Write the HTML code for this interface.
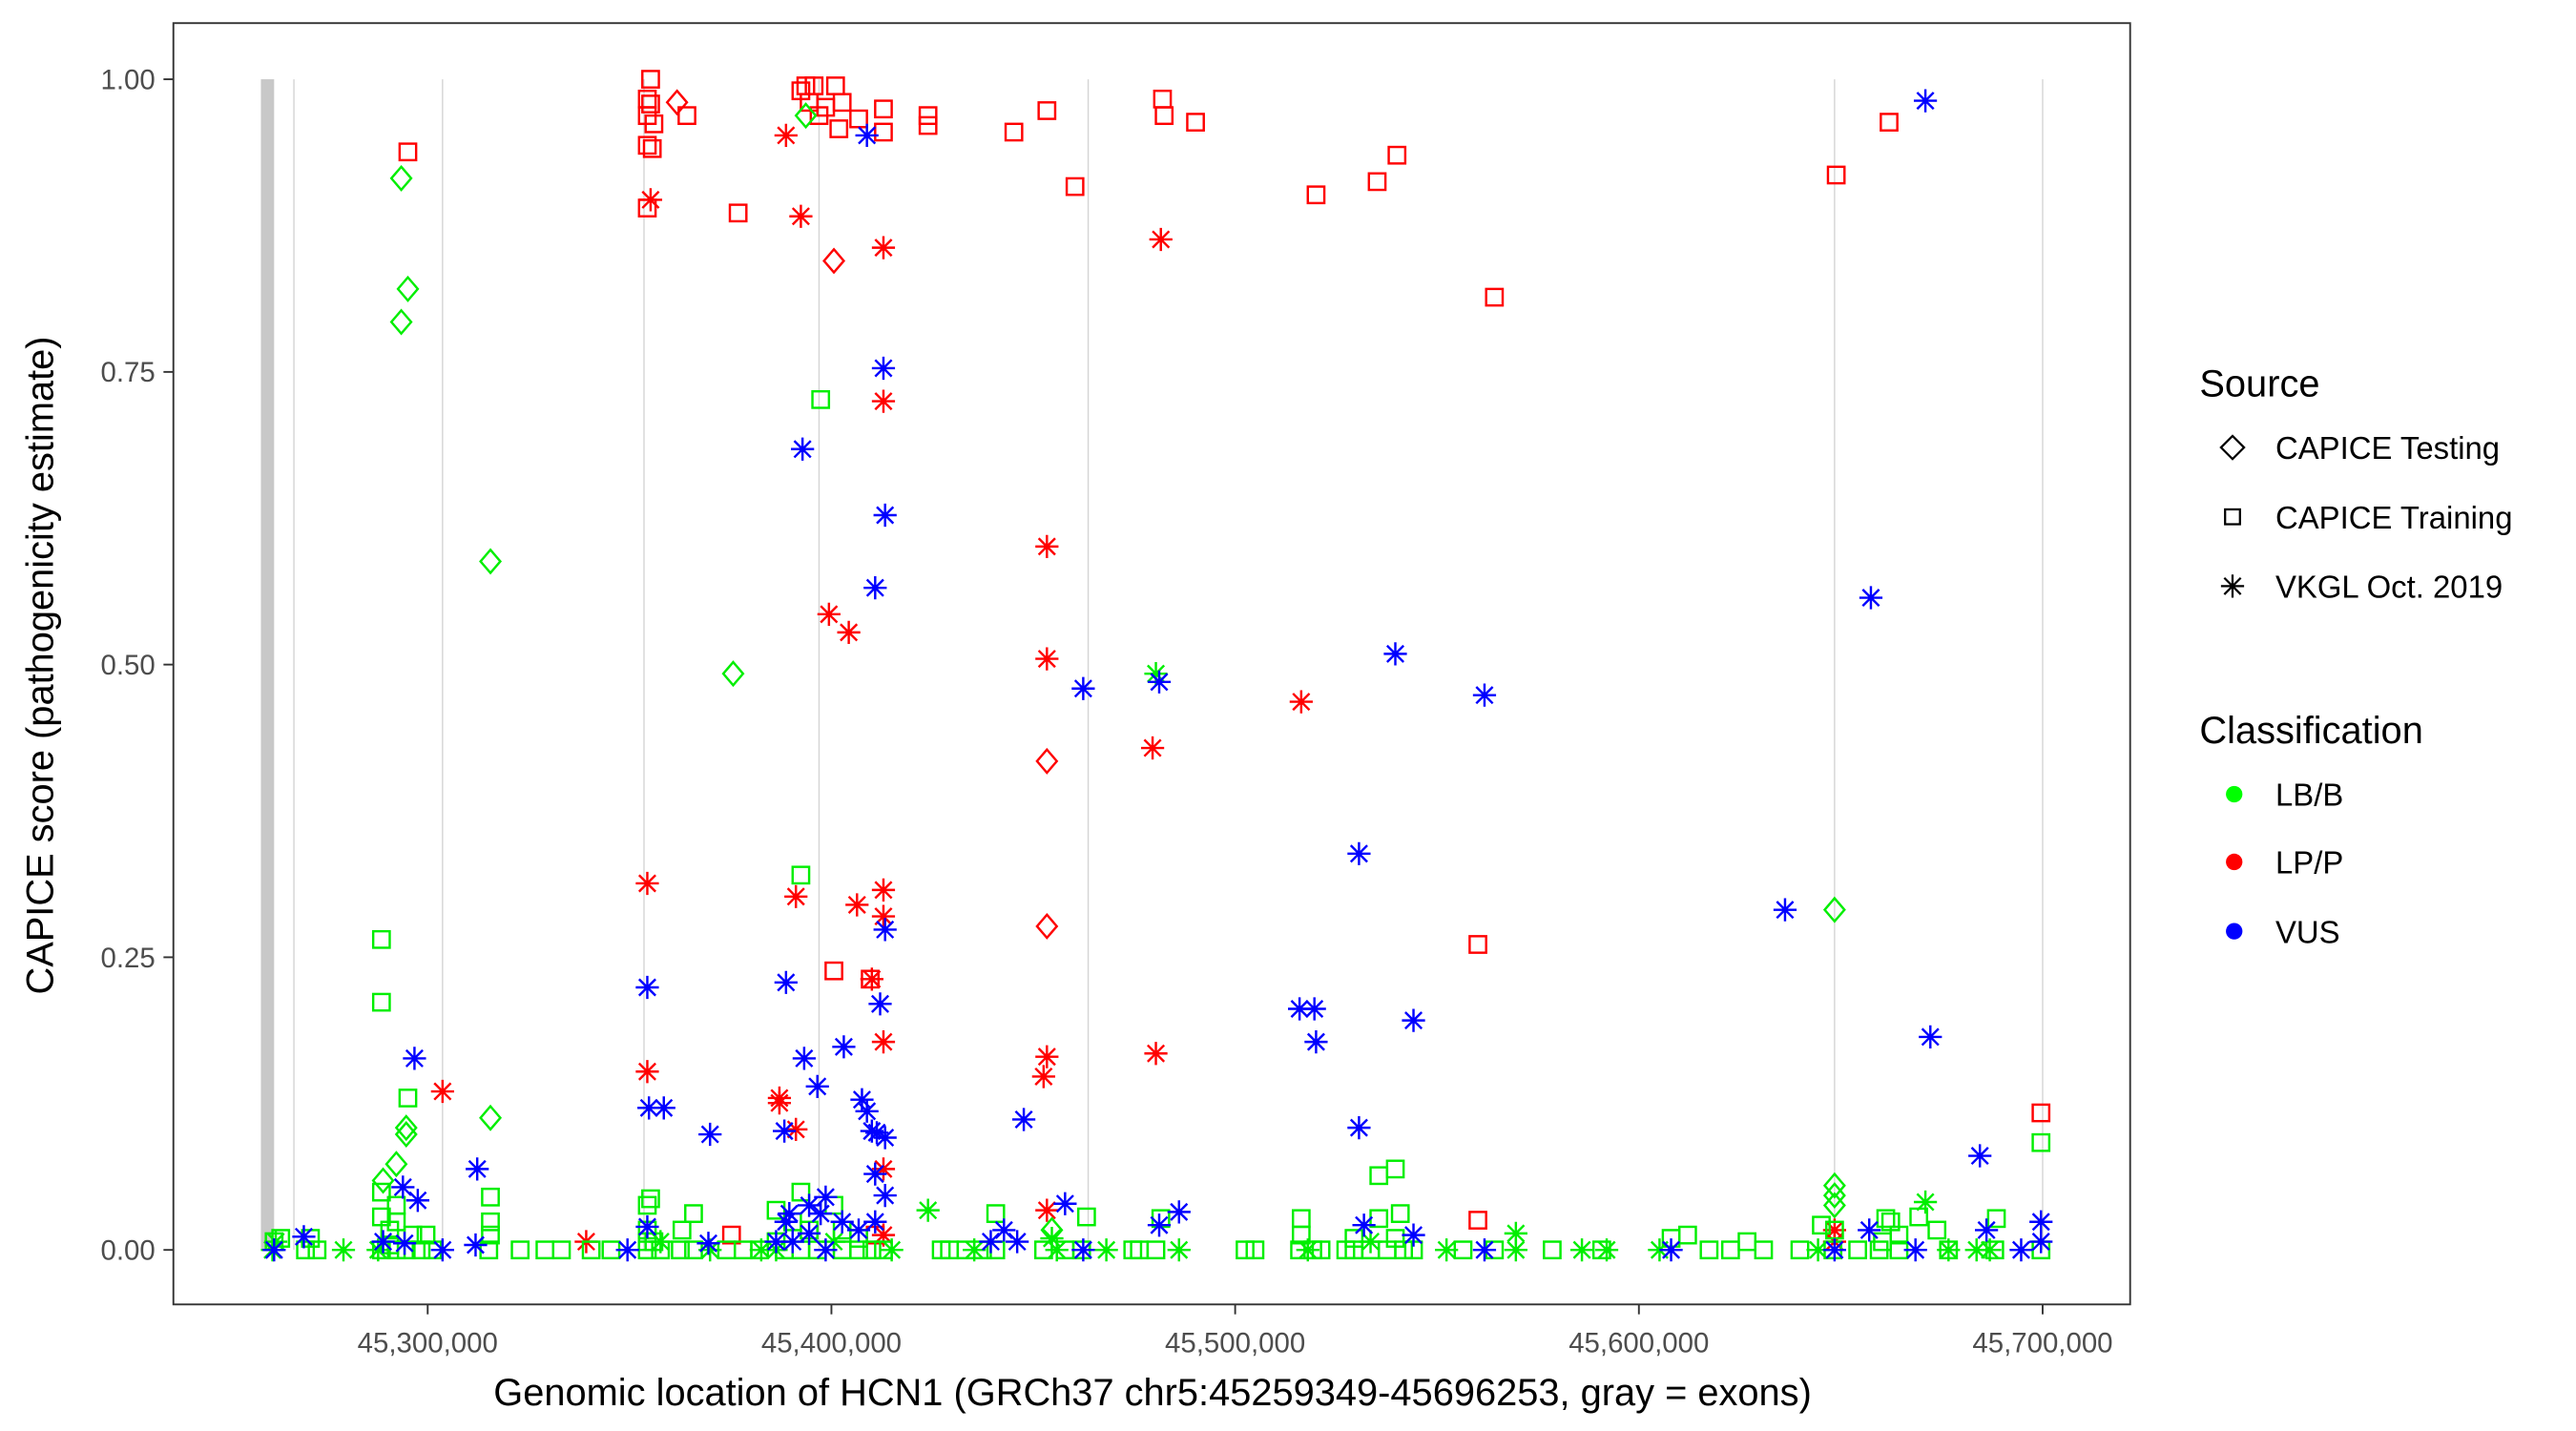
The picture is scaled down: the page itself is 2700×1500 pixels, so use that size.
<!DOCTYPE html>
<html><head><meta charset="utf-8"><style>
html,body{margin:0;padding:0;background:#fff;}
svg{display:block;font-family:"Liberation Sans",Arial,sans-serif;}
</style></head><body>
<svg id="s" width="2700" height="1500" viewBox="0 0 1560 866.67" xmlns="http://www.w3.org/2000/svg">
<rect x="0" y="0" width="1560" height="866.67" fill="#fff"/>
<g stroke="#d4d4d4" stroke-width="0.8">
<line x1="178" y1="48" x2="178" y2="757"/><line x1="268" y1="48" x2="268" y2="757"/>
<line x1="390" y1="48" x2="390" y2="757"/><line x1="496" y1="48" x2="496" y2="757"/>
<line x1="659" y1="48" x2="659" y2="757"/><line x1="1111" y1="48" x2="1111" y2="757"/>
<line x1="1237" y1="48" x2="1237" y2="757"/>
</g>
<rect x="158" y="48" width="8" height="709" fill="#c8c8c8"/>
<g id="pts" fill="none" stroke-width="1.4"></g>
<rect x="105" y="14" width="1185" height="776" fill="none" stroke="#333" stroke-width="1.1"/>
<g stroke="#333" stroke-width="1.1">
<line x1="99" y1="48" x2="105" y2="48"/><line x1="99" y1="225.25" x2="105" y2="225.25"/>
<line x1="99" y1="402.5" x2="105" y2="402.5"/><line x1="99" y1="579.75" x2="105" y2="579.75"/>
<line x1="99" y1="757" x2="105" y2="757"/>
<line x1="259" y1="790" x2="259" y2="796"/><line x1="503.5" y1="790" x2="503.5" y2="796"/>
<line x1="748" y1="790" x2="748" y2="796"/><line x1="992.5" y1="790" x2="992.5" y2="796"/>
<line x1="1237" y1="790" x2="1237" y2="796"/>
</g>
<g font-size="17" fill="#4d4d4d" text-anchor="end">
<text x="94" y="54">1.00</text><text x="94" y="231">0.75</text><text x="94" y="408.5">0.50</text>
<text x="94" y="586">0.25</text><text x="94" y="763">0.00</text>
</g>
<g font-size="17" fill="#4d4d4d" text-anchor="middle">
<text x="259" y="819">45,300,000</text><text x="503.5" y="819">45,400,000</text>
<text x="748" y="819">45,500,000</text><text x="992.5" y="819">45,600,000</text>
<text x="1237" y="819">45,700,000</text>
</g>
<text x="698" y="851" font-size="23" text-anchor="middle">Genomic location of HCN1 (GRCh37 chr5:45259349-45696253, gray = exons)</text>
<text transform="translate(32,403) rotate(-90)" font-size="23" text-anchor="middle">CAPICE score (pathogenicity estimate)</text>
<text x="1332" y="240" font-size="23">Source</text>
<text x="1378" y="278" font-size="19">CAPICE Testing</text>
<text x="1378" y="320" font-size="19">CAPICE Training</text>
<text x="1378" y="362" font-size="19">VKGL Oct. 2019</text>
<text x="1332" y="450" font-size="23">Classification</text>
<text x="1378" y="488" font-size="19">LB/B</text>
<text x="1378" y="529" font-size="19">LP/P</text>
<text x="1378" y="571" font-size="19">VUS</text>
<g stroke="#000" stroke-width="1.3" fill="none">
<path d="M1352 264 L1359 271 L1352 278 L1345 271Z"/>
<rect x="1347.5" y="308.5" width="9" height="9"/>
<path d="M1352 348v14M1345 355h14M1347 350l10 10M1357 350l-10 10"/>
</g>
<circle cx="1353" cy="481" r="5" fill="#0f0"/><circle cx="1353" cy="522" r="5" fill="#f00"/><circle cx="1353" cy="564" r="5" fill="#00f"/>
</svg>
<script>
var R="#ff0000",G="#00ee00",B="#0000ff";
var data=[
[R,"s",[[394,48],[392,60],[394,63],[392,70],[396,75],[392,88],[395,90],[392,126],[416,70],[247,92],[485,55],[488,52],[493,52],[506,52],[490,62],[496,70],[500,65],[510,62],[520,72],[508,78],[535,66],[535,80],[562,70],[562,76],[634,67],[614,80],[704,60],[705,70],[724,74],[651,113],[447,129],[797,118],[834,110],[846,94],[905,180],[1112,106],[1144,74],[895,572],[505,588],[527,593],[1236,674],[895,739],[443,748],[530,748]]],
[R,"d",[[410,62],[505,158],[634,461],[634,561]]],
[R,"a",[[476,82],[394,121],[485,131],[703,145],[535,150],[535,243],[634,331],[502,372],[514,383],[634,399],[788,425],[698,453],[392,535],[482,543],[519,548],[535,539],[535,555],[392,649],[268,661],[472,665],[472,668],[482,684],[535,631],[634,640],[632,652],[700,638],[528,593],[634,733],[535,708],[355,752],[1111,745],[1111,752],[535,748]]],
[G,"s",[[497,242],[485,530],[231,569],[231,607],[247,665],[297,725],[297,740],[297,748],[231,722],[231,737],[240,740],[236,745],[250,748],[258,748],[236,754],[240,730],[835,712],[845,708],[1236,692],[1209,738],[392,730],[394,726],[392,745],[413,745],[420,735],[485,722],[470,733],[480,740],[490,745],[505,730],[510,745],[520,750],[603,735],[658,737],[788,738],[848,735],[835,738],[788,748],[703,738],[603,757],[188,750],[170,750],[166,752],[1012,750],[1022,748],[1058,752],[1145,740],[1142,738],[1162,737],[1173,745],[1103,742],[1111,745],[1150,748],[185,757],[192,757],[240,757],[255,757],[296,757],[315,757],[330,757],[340,757],[358,757],[370,757],[392,757],[400,757],[412,757],[420,757],[440,757],[450,757],[460,757],[485,757],[495,757],[510,757],[520,757],[535,757],[570,757],[575,757],[585,757],[595,757],[632,757],[645,757],[655,757],[686,757],[690,757],[700,757],[754,757],[760,757],[787,757],[795,757],[800,757],[815,757],[820,757],[830,757],[840,757],[850,757],[856,757],[886,757],[905,757],[940,757],[970,757],[1035,757],[1048,757],[1068,757],[1090,757],[1110,757],[1125,757],[1138,757],[1150,757],[1180,757],[1208,757],[1236,757],[231,757],[246,757],[262,757],[392,752],[396,752],[470,752],[475,757],[528,757],[820,750],[845,750],[1140,752]]],
[G,"d",[[243,108],[247,175],[243,195],[297,340],[444,408],[488,70],[1111,551],[297,677],[246,683],[246,687],[240,705],[232,715],[1111,718],[1111,724],[1111,730],[637,745]]],
[G,"a",[[700,408],[562,733],[1166,728],[637,750],[208,757],[229,757],[461,757],[590,757],[640,757],[670,757],[714,757],[792,757],[876,757],[918,747],[918,757],[958,757],[973,757],[1005,757],[1101,757],[1180,757],[1197,757],[1205,757],[165,757],[167,752],[540,757],[470,757],[400,752],[430,757],[505,752],[830,752]]],
[B,"a",[[525,82],[1166,61],[535,223],[486,272],[536,312],[530,356],[656,417],[702,413],[845,396],[899,421],[1133,362],[823,517],[1081,551],[536,563],[392,598],[476,595],[533,608],[787,611],[796,611],[797,631],[856,618],[487,641],[511,634],[495,658],[1169,628],[251,641],[393,671],[402,671],[522,666],[525,673],[430,687],[475,685],[528,685],[531,686],[620,678],[823,683],[1199,700],[289,708],[244,719],[253,727],[536,689],[530,711],[536,724],[645,729],[714,734],[1132,745],[1236,740],[826,742],[184,749],[232,752],[245,753],[268,757],[288,754],[380,757],[392,743],[429,753],[476,740],[480,752],[490,747],[497,735],[510,740],[520,745],[530,740],[608,745],[616,752],[656,757],[702,742],[856,748],[899,757],[1012,757],[1111,757],[1160,757],[1203,745],[1224,757],[1236,752],[166,757],[470,752],[500,757],[600,752],[490,730],[500,725],[478,735]]]
];
var h="";
data.forEach(function(d){var c=d[0],t=d[1];d[2].forEach(function(p){var x=p[0],y=p[1];
if(t=="s")h+='<rect x="'+(x-5)+'" y="'+(y-5)+'" width="10" height="10" stroke="'+c+'"/>';
else if(t=="d")h+='<path d="M'+x+' '+(y-7)+'L'+(x+6)+' '+y+'L'+x+' '+(y+7)+'L'+(x-6)+' '+y+'Z" stroke="'+c+'"/>';
else h+='<path d="M'+x+' '+(y-7)+'v14M'+(x-7)+' '+y+'h14M'+(x-5)+' '+(y-5)+'l10 10M'+(x+5)+' '+(y-5)+'l-10 10" stroke="'+c+'"/>';
});});
document.getElementById("pts").innerHTML=h;
</script>
</body></html>
